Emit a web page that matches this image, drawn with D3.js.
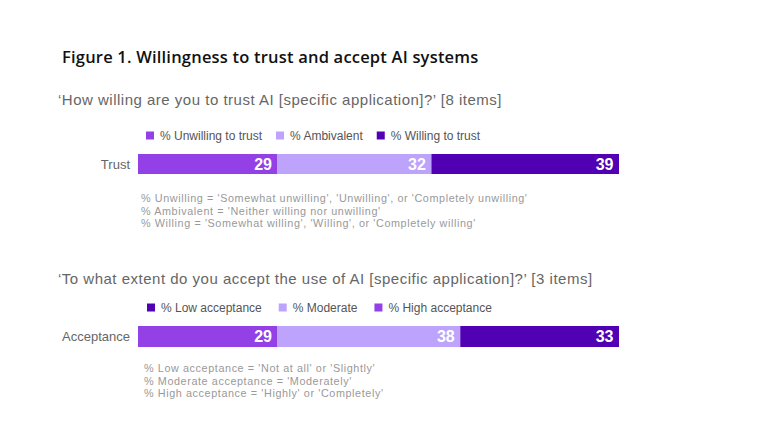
<!DOCTYPE html>
<html>
<head>
<meta charset="utf-8">
<script src="https://cdn.jsdelivr.net/npm/d3@7"></script>
<style>
  html, body { margin: 0; padding: 0; background: #fff; }
  svg { display: block; }
</style>
</head>
<body>
<svg id="chart" width="782" height="439"></svg>
<script>
// ---- Data ----
const titleText = "Figure 1. Willingness to trust and accept AI systems";

const trustQuestion = "\u2018How willing are you to trust AI [specific application]?\u2019 [8 items]";
const trustRow = "Trust";
const trustCategories = ["% Unwilling to trust", "% Ambivalent", "% Willing to trust"];
const trustValues = [29, 32, 39];
const trustNotes = [
  "% Unwilling = 'Somewhat unwilling', 'Unwilling', or 'Completely unwilling'",
  "% Ambivalent = 'Neither willing nor unwilling'",
  "% Willing = 'Somewhat willing', 'Willing', or 'Completely willing'"
];

const acceptQuestion = "\u2018To what extent do you accept the use of AI [specific application]?\u2019 [3 items]";
const acceptRow = "Acceptance";
const acceptCategories = ["% Low acceptance", "% Moderate", "% High acceptance"];
const acceptValues = [29, 38, 33];
const acceptNotes = [
  "% Low acceptance = 'Not at all' or 'Slightly'",
  "% Moderate acceptance = 'Moderately'",
  "% High acceptance = 'Highly' or 'Completely'"
];

// ---- Styles ----
const MED = "#9341e6", LIGHT = "#bda3fb", DARK = "#5200b4";
const barColors = [MED, LIGHT, DARK];
const trustLegendColors = [MED, LIGHT, DARK];
const acceptLegendColors = [DARK, LIGHT, MED];
const FONT = "'Liberation Sans', Arial, Helvetica, sans-serif";

const svg = d3.select("#chart");
const x = d3.scaleLinear().domain([0, 100]).range([138, 619]);

svg.append("text")
  .attr("x", 62).attr("y", 63)
  .attr("font-family", "'Open Sans', sans-serif")
  .attr("font-weight", 600)
  .attr("font-size", 16.5)
  .attr("letter-spacing", 0.2)
  .attr("fill", "#111")
  .text(titleText);

function section(cfg) {
  const g = svg.append("g");
  // question
  g.append("text")
    .attr("x", 58).attr("y", cfg.qY)
    .attr("font-family", FONT).attr("font-size", 15)
    .attr("letter-spacing", 0.5)
    .attr("fill", "#666")
    .text(cfg.question);

  // legend
  const leg = g.append("g");
  let lx = cfg.legX;
  cfg.categories.forEach((c, i) => {
    leg.append("rect")
      .attr("x", lx).attr("y", cfg.legY - 8.5)
      .attr("width", 8).attr("height", 8)
      .attr("fill", cfg.legendColors[i]);
    const t = leg.append("text")
      .attr("x", lx + 14).attr("y", cfg.legY)
      .attr("font-family", FONT).attr("font-size", 12)
      .attr("fill", "#555")
      .text(c);
    lx += 14 + t.node().getComputedTextLength() + cfg.legGap;
  });

  // stacked bar
  const row = {};
  cfg.categories.forEach((c, i) => row[c] = cfg.values[i]);
  const stack = d3.stack().keys(cfg.categories)([row]);
  const y = d3.scaleBand().domain([cfg.rowName]).range([cfg.barY, cfg.barY + cfg.barH]).padding(0);

  g.append("text")
    .attr("x", 130).attr("y", y(cfg.rowName) + y.bandwidth() / 2)
    .attr("dy", "0.35em")
    .attr("text-anchor", "end")
    .attr("font-family", FONT).attr("font-size", 13)
    .attr("fill", "#666")
    .text(cfg.rowName);

  const seg = g.selectAll(".seg").data(stack).join("g");
  seg.append("rect")
    .attr("x", d => x(d[0][0]))
    .attr("y", y(cfg.rowName))
    .attr("width", d => x(d[0][1]) - x(d[0][0]))
    .attr("height", y.bandwidth())
    .attr("fill", (d, i) => barColors[i]);
  seg.append("text")
    .attr("x", d => x(d[0][1]) - 5.5)
    .attr("y", y(cfg.rowName) + y.bandwidth() / 2)
    .attr("dy", "0.36em")
    .attr("text-anchor", "end")
    .attr("font-family", FONT).attr("font-weight", 700).attr("font-size", 16)
    .attr("fill", "#fff")
    .text(d => d[0][1] - d[0][0]);

  // notes
  g.selectAll(".note").data(cfg.notes).join("text")
    .attr("x", cfg.noteX)
    .attr("y", (d, i) => cfg.noteY + i * cfg.noteStep)
    .attr("font-family", FONT).attr("font-size", 10.8)
    .attr("letter-spacing", 0.6)
    .attr("fill", "#999")
    .text(d => d);
}

section({
  question: trustQuestion, qY: 105,
  categories: trustCategories, values: trustValues, legendColors: trustLegendColors,
  legX: 146, legY: 140, legGap: 14,
  rowName: trustRow, barY: 154, barH: 20,
  notes: trustNotes, noteX: 141, noteY: 202, noteStep: 12.5
});

section({
  question: acceptQuestion, qY: 284,
  categories: acceptCategories, values: acceptValues, legendColors: acceptLegendColors,
  legX: 147, legY: 312, legGap: 17,
  rowName: acceptRow, barY: 326, barH: 21,
  notes: acceptNotes, noteX: 144, noteY: 372, noteStep: 12.5
});
</script>
</body>
</html>
